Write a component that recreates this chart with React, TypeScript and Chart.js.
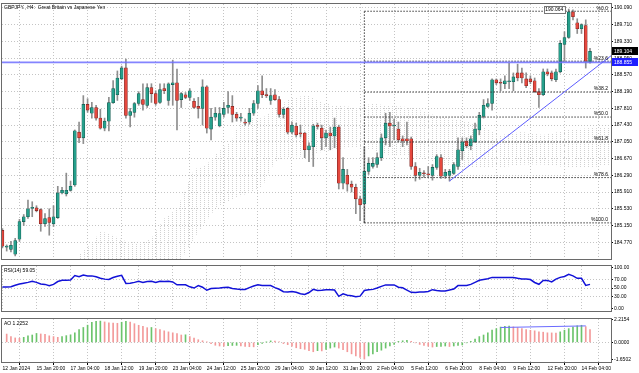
import React, { useEffect, useRef } from "react";
import { Chart, registerables } from "chart.js";
Chart.register(...registerables);

const FONT = "'Liberation Sans', Arial, sans-serif";
const FS = 5;
const GRID = "#c4c4c4";

const titleText = "GBPJPY., H4:  Great Britain vs Japanese Yen";

const opens = [
  185.04, 184.66, 184.61, 184.50, 184.84, 185.24, 185.35, 185.54, 185.55, 185.51,
  185.19, 185.33, 185.19, 185.33, 185.89, 185.87, 185.95, 186.07, 187.27, 187.14,
  187.90, 187.70, 187.83, 187.59, 187.36, 187.52, 187.94, 188.12, 188.48, 188.73,
  187.65, 187.72, 187.92, 188.01, 187.88, 188.28, 188.145, 187.945, 188.26, 187.99,
  188.35, 188.39, 188.01, 188.12, 188.06, 187.97, 187.855, 187.81, 188.30, 187.34,
  187.61, 187.41, 187.675, 187.83, 187.855, 187.675, 187.59, 187.50, 187.50, 187.70,
  187.92, 188.21, 188.12, 187.99, 188.12, 188.01, 187.675, 187.81, 187.27, 187.41,
  187.25, 187.25, 186.87, 186.94, 187.41, 187.36, 187.14, 187.25, 187.185, 187.385,
  186.11, 186.29, 186.09, 186.02, 185.755, 185.64, 186.38, 186.49, 186.54, 186.69,
  187.14, 187.475, 187.41, 187.34, 187.12, 187.12, 187.12, 186.49, 186.29, 186.34,
  186.31, 186.29, 186.47, 186.69, 186.27, 186.29, 186.335, 186.49, 186.85, 187.07,
  186.96, 187.05, 187.32, 187.63, 187.855, 187.92, 188.46, 188.39, 188.37, 188.415,
  188.415, 188.615, 188.615, 188.48, 188.48, 188.435, 188.19, 188.12, 188.64, 188.615,
  188.46, 188.64, 189.26, 189.42, 190.00, 189.755, 189.62, 189.69, 188.86,
];
const highs = [
  185.08, 184.71, 184.79, 184.86, 185.29, 185.40, 185.73, 185.69, 185.60, 185.53,
  185.42, 185.53, 185.60, 186.04, 186.02, 186.34, 186.16, 187.32, 187.50, 188.10,
  188.03, 187.945, 187.88, 187.79, 187.59, 188.06, 188.44, 188.66, 188.77, 188.93,
  187.81, 187.945, 188.19, 188.37, 188.37, 188.37, 188.21, 188.37, 188.37, 188.39,
  188.905, 188.70, 188.17, 188.17, 188.26, 188.03, 188.06, 188.46, 188.325, 187.81,
  187.83, 187.83, 187.945, 188.19, 188.10, 187.72, 187.70, 187.565, 187.81, 187.99,
  188.325, 188.55, 188.26, 188.26, 188.235, 188.08, 187.83, 187.83, 187.50, 187.475,
  187.43, 187.27, 187.03, 187.45, 187.475, 187.43, 187.32, 187.385, 187.59, 187.43,
  186.69, 186.425, 186.16, 186.09, 185.82, 186.94, 186.69, 186.69, 186.80, 187.23,
  187.70, 187.72, 187.565, 187.50, 187.185, 187.50, 187.16, 186.58, 186.45, 186.40,
  186.49, 186.535, 186.76, 186.76, 186.425, 186.425, 186.58, 187.14, 187.14, 187.14,
  187.185, 187.475, 187.72, 188.01, 188.03, 188.48, 188.48, 188.48, 188.55, 188.84,
  188.615, 188.815, 188.725, 188.615, 188.55, 188.50, 188.26, 188.705, 188.705, 188.66,
  188.705, 189.35, 189.55, 190.064, 190.045, 189.845, 189.73, 189.82, 189.175,
];
const lows = [
  184.64, 184.57, 184.55, 184.46, 184.79, 185.15, 185.31, 185.35, 185.46, 185.02,
  185.13, 184.93, 185.13, 185.31, 185.87, 185.82, 185.93, 186.04, 187.03, 187.01,
  187.72, 187.59, 187.54, 187.34, 187.30, 187.30, 187.92, 187.99, 188.46, 187.59,
  187.39, 187.61, 187.88, 187.77, 187.83, 187.945, 187.88, 187.92, 188.145, 187.88,
  187.88, 187.32, 187.83, 188.03, 187.99, 187.81, 187.59, 187.43, 187.25, 187.095,
  187.54, 187.39, 187.61, 187.70, 187.50, 187.52, 187.52, 187.43, 187.45, 187.65,
  187.81, 188.055, 188.055, 187.90, 187.99, 187.61, 187.59, 187.23, 187.23, 187.16,
  187.16, 186.69, 186.60, 186.49, 187.34, 186.87, 186.94, 186.87, 186.915, 185.98,
  185.98, 185.93, 185.91, 185.42, 185.26, 185.21, 186.31, 186.45, 186.47, 186.625,
  186.98, 186.94, 187.095, 187.05, 186.94, 186.98, 186.425, 186.16, 186.20, 186.25,
  186.25, 186.18, 186.425, 186.22, 186.22, 186.16, 186.31, 186.425, 186.65, 186.915,
  186.87, 187.03, 187.21, 187.59, 187.83, 187.77, 188.35, 188.21, 188.26, 188.26,
  188.21, 188.435, 188.39, 188.28, 188.37, 188.17, 187.83, 188.10, 188.55, 188.435,
  188.415, 188.615, 188.88, 189.40, 189.82, 189.51, 189.51, 188.725, 188.835,
];
const closes = [
  184.68, 184.68, 184.70, 184.81, 185.24, 185.35, 185.53, 185.55, 185.49, 185.19,
  185.31, 185.22, 185.35, 185.89, 185.95, 185.95, 186.04, 187.30, 187.14, 187.90,
  187.77, 187.83, 187.59, 187.36, 187.52, 187.94, 188.26, 188.50, 188.73, 187.65,
  187.74, 187.92, 188.145, 187.90, 188.28, 188.145, 187.92, 188.235, 188.21, 188.37,
  188.39, 187.99, 188.145, 188.06, 188.21, 187.83, 187.81, 188.30, 187.36, 187.61,
  187.70, 187.69, 187.81, 187.88, 187.675, 187.59, 187.61, 187.475, 187.70, 187.92,
  188.21, 188.12, 188.10, 188.10, 188.01, 187.675, 187.79, 187.27, 187.43, 187.21,
  187.23, 186.87, 186.96, 187.41, 187.40, 187.14, 187.25, 187.185, 187.385, 186.11,
  186.425, 186.09, 186.02, 185.755, 185.62, 186.38, 186.56, 186.56, 186.69, 187.14,
  187.475, 187.41, 187.43, 187.095, 187.07, 187.07, 186.49, 186.29, 186.36, 186.325,
  186.30, 186.47, 186.715, 186.27, 186.36, 186.38, 186.535, 186.87, 187.05, 186.96,
  187.12, 187.34, 187.65, 187.88, 187.92, 188.46, 188.39, 188.38, 188.435, 188.435,
  188.525, 188.50, 188.50, 188.325, 188.415, 188.19, 188.12, 188.64, 188.59, 188.48,
  188.64, 189.285, 189.42, 190.00, 189.89, 189.62, 189.71, 188.88, 189.104,
];

// Ichimoku cloud outline (bar index, upper and lower span prices)
const cloudIdx = [18, 21, 23, 25, 29, 32, 35, 38, 41, 43, 45, 48, 50, 54, 56, 61, 64, 68, 72, 75, 78, 83, 87, 90, 96, 100, 103, 108, 112, 117, 122, 127, 133, 138, 143];
const cloudTop = [184.48, 184.748, 185.016, 184.972, 184.793, 184.748, 184.86, 185.307, 185.531, 185.978, 186.425, 186.536, 186.76, 187.095, 187.587, 187.587, 187.81, 188.056, 188.101, 187.944, 187.877, 187.833, 187.922, 187.877, 187.833, 187.698, 187.609, 187.542, 187.431, 187.207, 187.274, 187.207, 187.319, 187.363, 187.386];
const cloudBot = [184.3, 184.3, 184.3, 184.3, 184.3, 184.3, 184.3, 184.3, 184.3, 184.525, 184.86, 185.262, 185.531, 185.754, 185.821, 186.022, 186.603, 186.715, 186.715, 186.827, 186.872, 186.939, 186.872, 186.76, 186.715, 186.648, 186.536, 186.469, 186.469, 186.469, 186.536, 186.536, 186.469, 186.469, 186.536];

const rsi = [
  52.6, 52.6, 53, 57, 60, 62, 64, 66.5, 64, 60,
  59, 56, 59, 66, 69, 69.5, 70, 81, 78, 82,
  80, 80, 78, 74, 72, 71, 76, 79, 81.5, 61.5,
  62, 64, 66.5, 64, 66, 66.5, 64, 66.5, 66, 66.5,
  65, 58, 58, 58, 53, 50, 56, 52, 44.5, 49,
  49.5, 50, 51.5, 52, 49, 47.5, 46.7, 46.7, 51, 55,
  58, 56, 56, 56, 51, 47, 41, 40.5, 41.5, 39.5,
  36, 34, 39, 46.7, 44, 44.5, 45.5, 46, 45, 29.6,
  35.6, 32, 31, 28.5, 30, 44, 45.5, 46.7, 50, 54,
  57.8, 57.8, 57.8, 52, 50.5, 45, 39.5, 39.2, 40, 40,
  41.5, 46, 44, 42.9, 43, 45, 47.5, 56, 56.3, 56.5,
  59, 64, 69, 71, 73, 76.3, 76, 76, 76, 76,
  76, 74, 72.6, 72.6, 71, 63.7, 59.3, 68.9, 68.9, 65,
  72, 76.3, 78.5, 83.7, 80, 74, 74, 56.3, 59.05,
];

const ao = [
  null, 0.79, 0.55, 0.42, 0.39, 0.48, 0.61, 0.70, 0.85, 0.80,
  0.76, 0.62, 0.55, 0.48, 0.55, 0.64, 0.72, 0.91, 1.22, 1.42,
  1.64, 1.92, 2.00, 2.03, 1.95, 1.86, 1.83, 1.82, 1.92, 2.01,
  1.93, 1.78, 1.63, 1.52, 1.40, 1.42, 1.31, 1.22, 1.10, 1.00,
  0.91, 0.84, 0.70, 0.72, 0.55, 0.40, 0.25, 0.15, 0.03, -0.12,
  -0.28, -0.35, -0.37, -0.32, -0.30, -0.29, -0.35, -0.40, -0.42, -0.43,
  -0.22, -0.10, 0.02, 0.14, 0.13, 0.05, -0.12, -0.22, -0.36, -0.52,
  -0.61, -0.67, -0.80, -0.90, -0.80, -0.82, -0.68, -0.55, -0.45, -0.55,
  -0.70, -0.90, -1.10, -1.30, -1.45, -1.60, -1.30, -1.10, -0.90, -0.75,
  -0.55, -0.35, -0.20, 0.09, 0.15, 0.18, 0.10, -0.05, -0.20, -0.30,
  -0.37, -0.45, -0.40, -0.38, -0.35, -0.40, -0.35, -0.30, -0.25, -0.05,
  0.10, 0.30, 0.55, 0.70, 0.91, 1.16, 1.31, 1.46, 1.52, 1.55,
  1.48, 1.40, 1.31, 1.22, 1.15, 1.10, 1.00, 0.97, 0.91, 0.90,
  0.88, 1.00, 1.16, 1.31, 1.46, 1.58, 1.63, 1.50, 1.2252,
];

const xTickIdx = [0, 8, 16, 24, 32, 40, 48, 56, 64, 72, 80, 88, 96, 104, 112, 120, 128, 136];
const xTickText = [
  "12 Jan 2024", "15 Jan 20:00", "17 Jan 04:00", "18 Jan 12:00", "19 Jan 20:00", "23 Jan 04:00",
  "24 Jan 12:00", "25 Jan 20:00", "29 Jan 04:00", "30 Jan 12:00", "31 Jan 20:00", "2 Feb 04:00",
  "5 Feb 12:00", "6 Feb 20:00", "8 Feb 04:00", "9 Feb 12:00", "12 Feb 20:00", "14 Feb 04:00",
];
const priceTicks = [184.77, 185.15, 185.53, 185.91, 186.29, 186.67, 187.05, 187.43, 187.81, 188.19, 188.57, 188.95, 189.33, 189.71, 190.09];
const rsiTicks = [0, 30, 50, 70, 100];
const rsiLevels = [30, 50, 70];
const aoTicks = [-1.6502, 0, 2.2154];

const fibHigh = 190.016;
const fibLow = 185.21;
const fibLevels = [0, 23.6, 38.2, 50, 61.8, 78.6, 100];
const fibStartIdx = 85;
const hLinePrice = 188.855;
const lastPrice = 189.104;
const highMarkIdx = 133;
const highMarkText = "190.064";
const trendStart = { x: 105, y: 186.16 };
const trendEnd = { x: 143, y: 189.01 };
const aoLineStart = { x: 117, y: 1.42 };
const aoLineEnd = { x: 137, y: 1.57 };

const XMIN = -0.1;
const XMAX = 142.93;
const GREEN = "#26a08c";
const RED = "#e5483e";

function fibPrice(l: number) {
  return fibHigh - (fibHigh - fibLow) * l / 100;
}

function xScale(hidden: boolean): any {
  return {
    type: "linear",
    min: XMIN,
    max: XMAX,
    offset: false,
    afterBuildTicks: (s: any) => { s.ticks = xTickIdx.map((v) => ({ value: v })); },
    afterFit: (s: any) => { s.height = hidden ? 0 : 11; },
    ticks: {
      display: !hidden,
      autoSkip: false,
      maxRotation: 0,
      align: "start",
      padding: 1,
      color: "#000",
      font: { family: FONT, size: FS },
      callback: (v: any) => { const k = xTickIdx.indexOf(v); return k >= 0 ? xTickText[k] : ""; },
    },
    grid: { color: GRID, drawTicks: !hidden, tickLength: 3, tickColor: "#000", tickBorderDash: [] },
    border: { display: false, dash: [1, 2] },
  };
}

function yScale(min: number, max: number, ticks: number[], dec: number, gridFilter?: (v: number) => boolean): any {
  return {
    position: "right",
    min, max,
    afterBuildTicks: (s: any) => { s.ticks = ticks.map((v) => ({ value: v })); },
    afterFit: (s: any) => { s.width = 28; },
    ticks: { color: "#000", padding: 1, font: { family: FONT, size: FS }, callback: (v: any) => Number(v).toFixed(dec) },
    grid: {
      color: (c: any) => (!gridFilter || (c.tick && gridFilter(c.tick.value)) ? GRID : "rgba(0,0,0,0)"),
      tickColor: "#000", tickLength: 2, tickBorderDash: [],
    },
    border: { display: true, color: "#000", dash: [1, 2] },
  };
}

function frame(label?: string) {
  return {
    id: "frame",
    afterDraw(chart: any) {
      const { ctx, chartArea: a } = chart;
      ctx.save();
      ctx.strokeStyle = "#6a6a6a";
      ctx.lineWidth = 1;
      ctx.strokeRect(a.left - 0.5, a.top - 0.5, a.right - a.left + 1, a.bottom - a.top + 1);
      if (label) {
        ctx.font = `${FS}px ${FONT}`;
        ctx.fillStyle = "#000";
        ctx.textAlign = "left";
        ctx.textBaseline = "top";
        ctx.fillText(label, a.left + 2, a.top + 2);
      }
      ctx.restore();
    },
  };
}

const baseOpts = (pad: any) => ({
  responsive: false,
  animation: false as const,
  devicePixelRatio: 1,
  layout: { padding: pad },
  plugins: { legend: { display: false }, tooltip: { enabled: false } },
});

export default function App() {
  const mainRef = useRef<HTMLCanvasElement>(null);
  const rsiRef = useRef<HTMLCanvasElement>(null);
  const aoRef = useRef<HTMLCanvasElement>(null);

  useEffect(() => {
    document.body.style.margin = "0";
    const charts: Chart[] = [];
    const n = closes.length;
    const idx = closes.map((_, i) => i);

    const pc = document.createElement("canvas");
    pc.width = 4; pc.height = 2;
    const pctx = pc.getContext("2d")!;
    pctx.fillStyle = "#d2d2d2";
    pctx.fillRect(0, 0, 1, 1);
    const mctx = mainRef.current!.getContext("2d")!;
    const pattern = mctx.createPattern(pc, "repeat");

    const up = idx.map((i) => closes[i] >= opens[i]);
    const fibDatasets: any[] = fibLevels.map((l) => ({
      type: "line",
      data: [{ x: fibStartIdx, y: fibPrice(l) }, { x: XMAX, y: fibPrice(l) }],
      borderColor: "#3a3a3a", borderWidth: 1, borderDash: [1.5, 1.5], pointRadius: 0, order: 3,
    }));
    fibDatasets.push({
      type: "line",
      data: [{ x: fibStartIdx, y: fibLow }, { x: fibStartIdx, y: fibHigh }],
      borderColor: "#3a3a3a", borderWidth: 1, borderDash: [1.5, 1.5], pointRadius: 0, order: 3,
    });

    const mainOverlay = {
      id: "mainOverlay",
      afterDraw(chart: any) {
        const { ctx, chartArea: a, scales } = chart;
        const ys = scales.y, xs = scales.x;
        ctx.save();
        ctx.font = `${FS}px ${FONT}`;
        ctx.fillStyle = "#000";
        ctx.textAlign = "right";
        ctx.textBaseline = "bottom";
        fibLevels.forEach((l) => ctx.fillText("%" + l.toFixed(1), a.right - 3, ys.getPixelForValue(fibPrice(l)) - 0.5));
        ctx.textAlign = "left";
        ctx.textBaseline = "top";
        ctx.fillText(titleText, a.left + 2, a.top + 1);
        const hx = xs.getPixelForValue(highMarkIdx) - 4;
        const hy = ys.getPixelForValue(highs[highMarkIdx]);
        const tw = ctx.measureText(highMarkText).width + 3;
        ctx.fillStyle = "#fff";
        ctx.fillRect(hx - tw, hy - 3.5, tw, 7);
        ctx.strokeStyle = "#777";
        ctx.strokeRect(Math.round(hx - tw) + 0.5, Math.round(hy - 3.5) + 0.5, Math.round(tw), 7);
        ctx.fillStyle = "#000";
        ctx.textBaseline = "middle";
        ctx.fillText(highMarkText, hx - tw + 1.5, hy + 0.5);
        const box = (p: number, bg: string) => {
          const y = ys.getPixelForValue(p);
          ctx.fillStyle = bg;
          ctx.fillRect(a.right + 1, Math.round(y - 4), 26, 8);
          ctx.fillStyle = "#fff";
          ctx.fillText(p.toFixed(3), a.right + 3, y + 0.5);
        };
        box(lastPrice, "#000");
        box(hLinePrice, "#1e1eff");
        ctx.restore();
      },
    };

    charts.push(new Chart(mainRef.current!, {
      type: "bar",
      data: {
        datasets: [
          { type: "line", data: cloudIdx.map((x, k) => ({ x, y: cloudTop[k] })), borderWidth: 0, pointRadius: 0, fill: "+1", backgroundColor: pattern as any, order: 20 } as any,
          { type: "line", data: cloudIdx.map((x, k) => ({ x, y: cloudBot[k] })), borderWidth: 0, pointRadius: 0, fill: false, order: 21 } as any,
          { type: "bar", data: idx.map((i) => ({ x: i, y: [lows[i], highs[i]] })), backgroundColor: "#8e8e8e", barThickness: 1, grouped: false, order: 6 } as any,
          {
            type: "bar", data: idx.map((i) => ({ x: i, y: [opens[i], closes[i]] })),
            backgroundColor: idx.map((i) => (up[i] ? GREEN : RED)),
            borderColor: idx.map((i) => (up[i] ? "#15574d" : "#7a2420")),
            borderWidth: 0.6, borderSkipped: false, minBarLength: 1, barThickness: 3, grouped: false, order: 5,
          } as any,
          ...fibDatasets,
          { type: "line", data: [{ x: XMIN, y: hLinePrice }, { x: XMAX, y: hLinePrice }], borderColor: "rgba(110,110,255,0.85)", borderWidth: 1.6, pointRadius: 0, order: 2 } as any,
          { type: "line", data: [trendStart, trendEnd], borderColor: "#5c5cff", borderWidth: 1, pointRadius: 0, order: 1 } as any,
        ],
      },
      options: {
        ...baseOpts({ left: 2, top: 2, right: 0, bottom: 2 }),
        scales: { x: xScale(true), y: yScale(184.39, 190.18, priceTicks, 3) },
      } as any,
      plugins: [frame(), mainOverlay],
    }));

    charts.push(new Chart(rsiRef.current!, {
      type: "line",
      data: { datasets: [{ data: idx.map((i) => ({ x: i, y: rsi[i] })), borderColor: "#1212d8", borderWidth: 1.5, pointRadius: 0 }] },
      options: {
        ...baseOpts({ left: 2, top: 2, right: 0, bottom: 1 }),
        scales: { x: xScale(true), y: yScale(-6.67, 104.4, rsiTicks, 2, (v) => rsiLevels.includes(v)) },
      } as any,
      plugins: [frame("RSI(14) " + rsi[n - 1].toFixed(2))],
    }));

    const aoCol = idx.map((i) => (i > 0 && ao[i - 1] != null && (ao[i] as number) > (ao[i - 1] as number) ? "#6cc46c" : "#f39a9a"));
    charts.push(new Chart(aoRef.current!, {
      type: "bar",
      data: {
        datasets: [
          { type: "bar", data: idx.map((i) => ({ x: i, y: ao[i] == null ? null : [0, ao[i]] })), backgroundColor: aoCol, barThickness: 1, grouped: false, order: 5 } as any,
          { type: "line", data: [aoLineStart, aoLineEnd], borderColor: "#6a6aff", borderWidth: 1, pointRadius: 0, order: 1 } as any,
        ],
      },
      options: {
        ...baseOpts({ left: 2, top: 2, right: 0, bottom: 0 }),
        scales: { x: xScale(false), y: yScale(-1.88, 2.23, aoTicks, 4, (v) => v === 0) },
      } as any,
      plugins: [frame("AO " + (ao[n - 1] as number).toFixed(4))],
    }));

    return () => charts.forEach((c) => c.destroy());
  }, []);

  return (
    <div style={{ position: "relative", width: 639, height: 373, background: "#fff", overflow: "hidden" }}>
      <canvas ref={mainRef} width={639} height={263} style={{ position: "absolute", left: 0, top: 0, width: 639, height: 263 }} />
      <canvas ref={rsiRef} width={639} height={53} style={{ position: "absolute", left: 0, top: 262, width: 639, height: 53 }} />
      <canvas ref={aoRef} width={639} height={58} style={{ position: "absolute", left: 0, top: 315, width: 639, height: 58 }} />
    </div>
  );
}
